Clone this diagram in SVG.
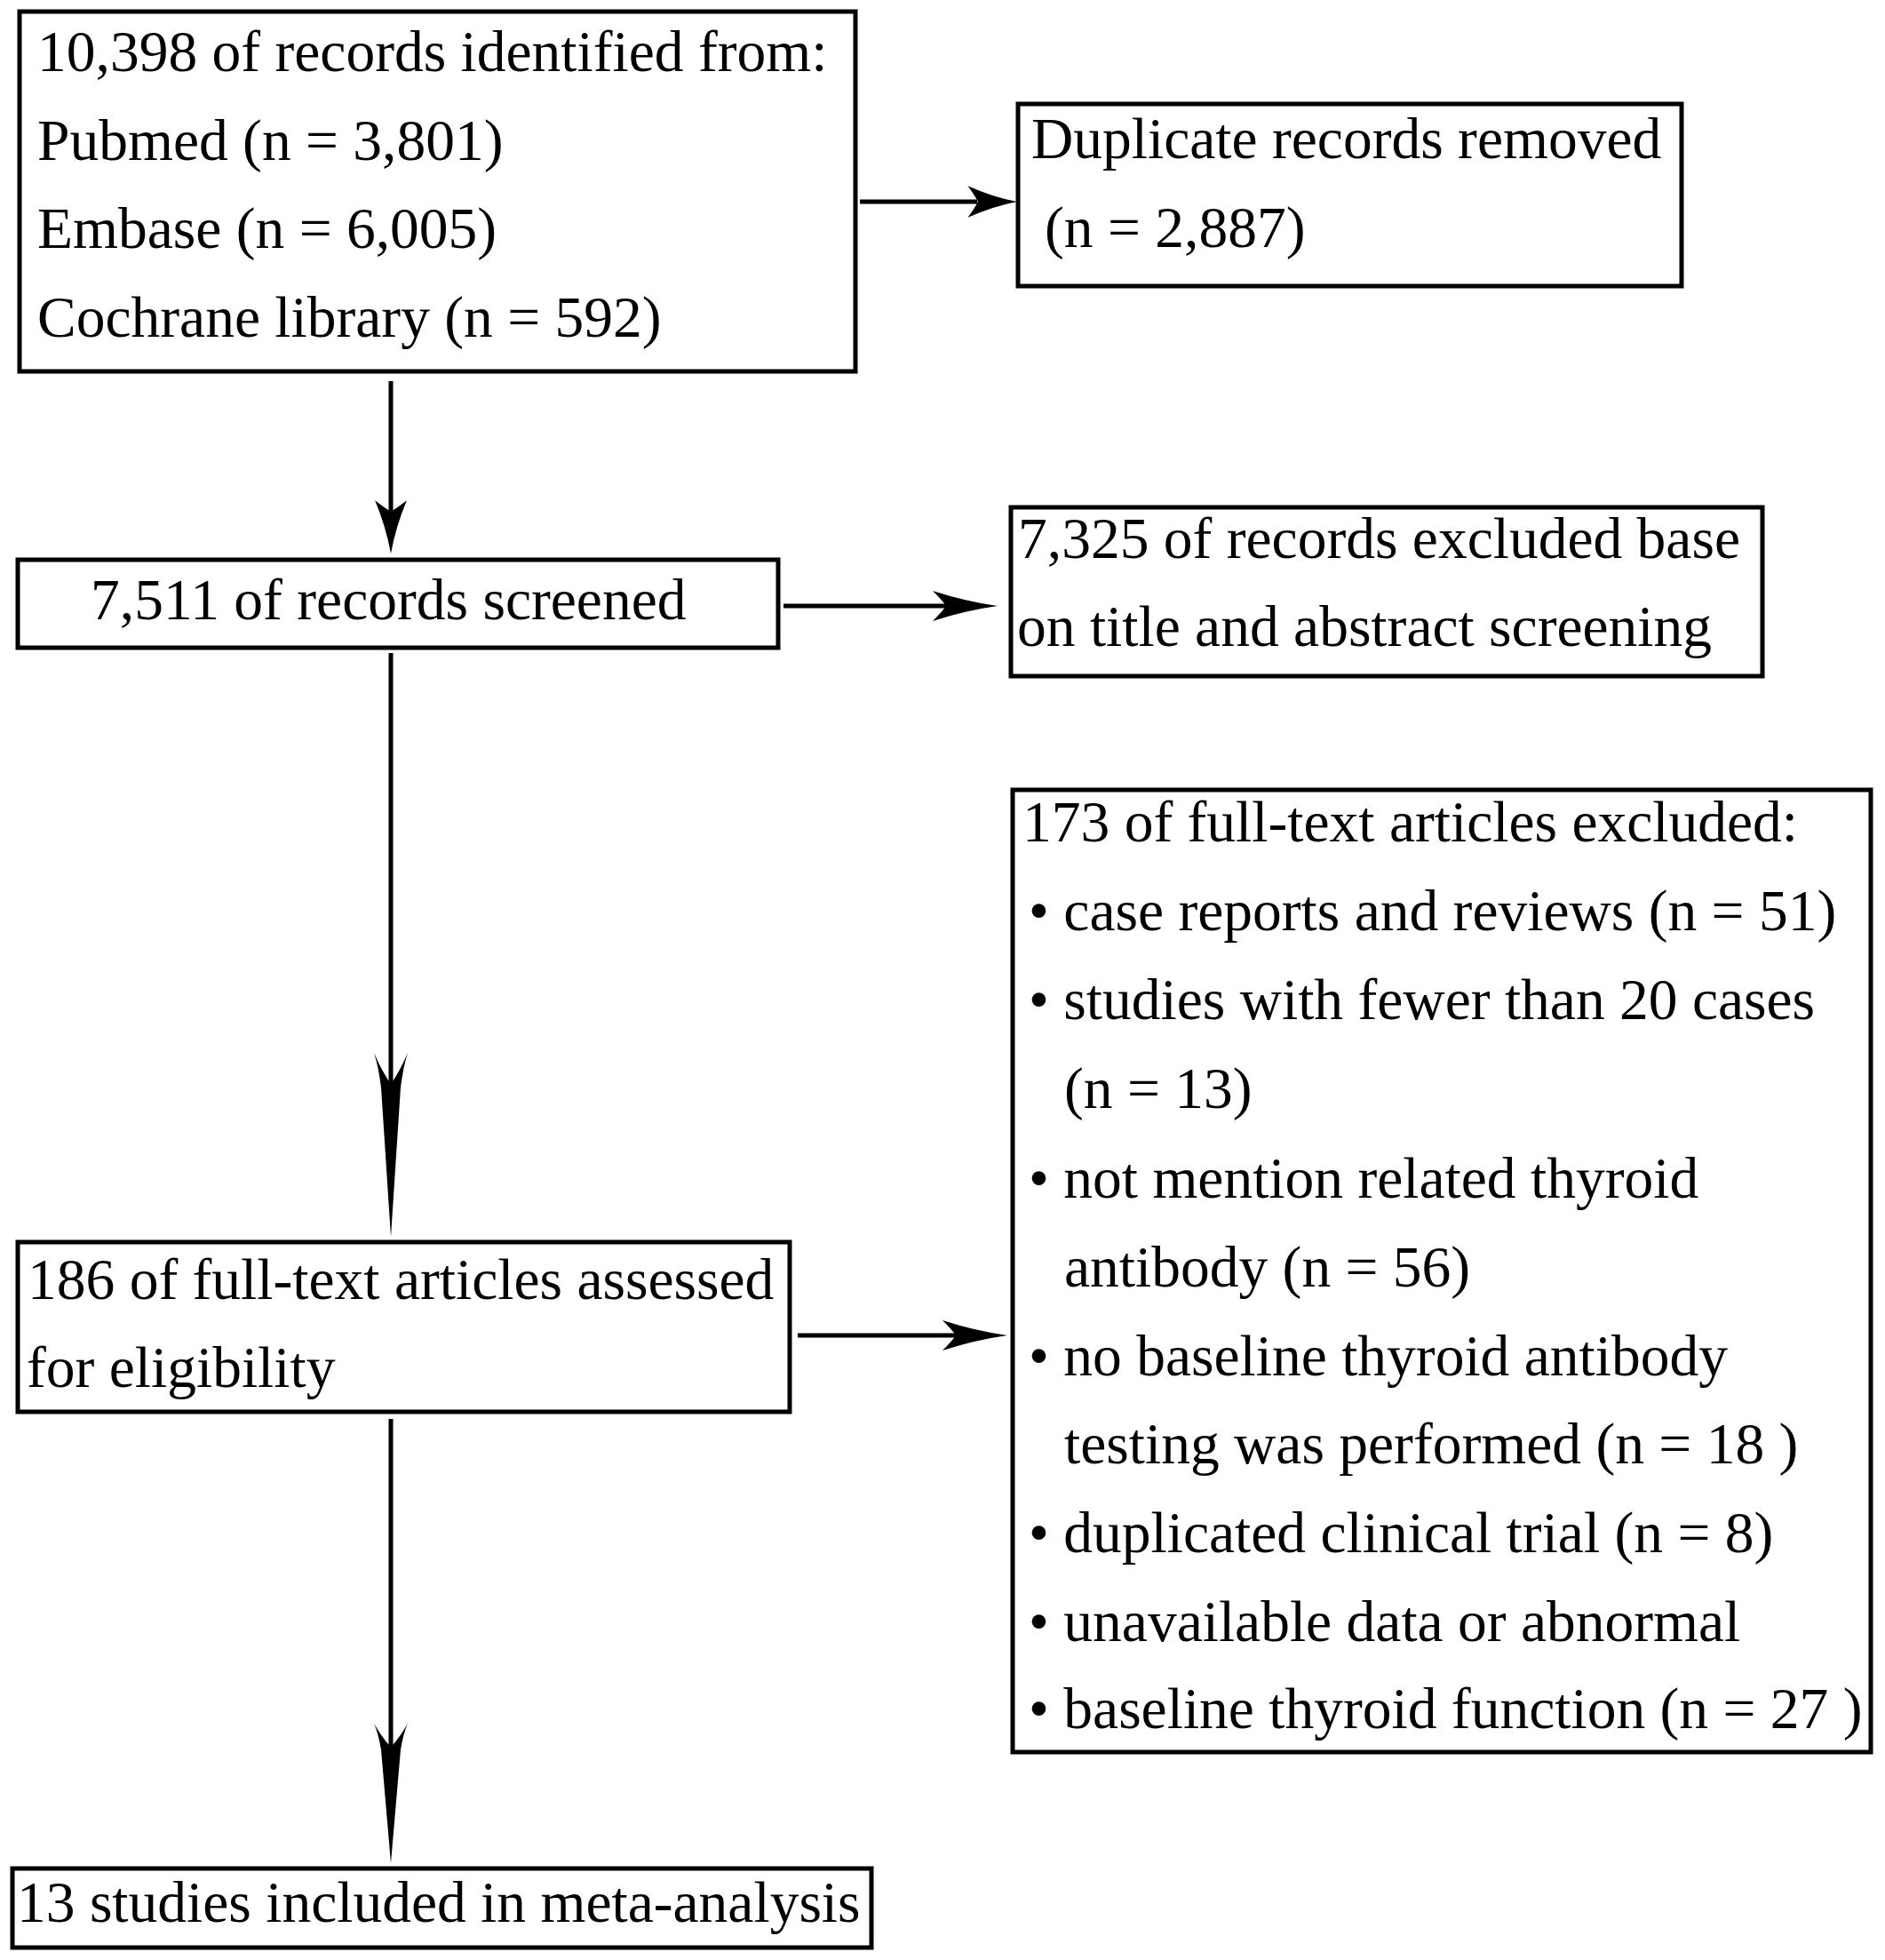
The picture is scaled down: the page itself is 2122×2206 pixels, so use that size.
<svg xmlns="http://www.w3.org/2000/svg" xmlns:xlink="http://www.w3.org/1999/xlink" width="2122" height="2206" viewBox="0 0 2122 2206">
<style>
.box{fill:#fff;stroke:#000;stroke-width:5}
.t{font-family:"Liberation Serif","Times New Roman",serif;font-size:65.5px;fill:#000}
.ln{stroke:#000;stroke-width:5;fill:none}
.hd{fill:#000;stroke:none}
</style>
<defs>
<path id="headS" d="M0,0 Q-36,-5 -73,-17 Q-62,-6 -58,0 Q-62,6 -73,17 Q-36,5 0,0 Z"/>
<path id="headL" d="M0,0 L-168,-11 Q-192,-14 -207,-19 Q-186,-10 -172,0 Q-186,10 -207,19 Q-192,14 -168,11 Z"/>
</defs>
<rect width="2122" height="2206" fill="#fff"/>
<g id="connectors">
<line class="ln" x1="968" y1="227" x2="1100" y2="227"/>
<use class="hd" xlink:href="#headS" href="#headS" transform="translate(1145,227) scale(0.76,1.05)"/>
<line class="ln" x1="440" y1="429" x2="440" y2="580"/>
<use class="hd" xlink:href="#headS" href="#headS" transform="translate(440,623) rotate(90) scale(0.82,1.05)"/>
<line class="ln" x1="882" y1="682" x2="1070" y2="682"/>
<use class="hd" xlink:href="#headS" href="#headS" transform="translate(1123,682)"/>
<line class="ln" x1="440" y1="735" x2="440" y2="1225"/>
<use class="hd" xlink:href="#headL" href="#headL" transform="translate(440,1392) rotate(90)"/>
<line class="ln" x1="898" y1="1503" x2="1080" y2="1503"/>
<use class="hd" xlink:href="#headS" href="#headS" transform="translate(1134,1503)"/>
<line class="ln" x1="440" y1="1597" x2="440" y2="1970"/>
<use class="hd" xlink:href="#headL" href="#headL" transform="translate(440,2097) rotate(90) scale(0.76,1)"/>
</g>
<g id="node-identified">
<rect class="box" x="22" y="13" width="941" height="405"/>
<text class="t" x="42" y="80">10,398 of records identified from:</text>
<text class="t" x="42" y="180">Pubmed (n = 3,801)</text>
<text class="t" x="42" y="279">Embase (n = 6,005)</text>
<text class="t" x="42" y="379">Cochrane library (n = 592)</text>
</g>
<g id="node-duplicates">
<rect class="box" x="1146" y="117" width="747" height="205"/>
<text class="t" x="1161" y="178">Duplicate records removed</text>
<text class="t" x="1176" y="278">(n = 2,887)</text>
</g>
<g id="node-screened">
<rect class="box" x="20" y="630" width="856" height="99"/>
<text class="t" x="102" y="697">7,511 of records screened</text>
</g>
<g id="node-excluded-title">
<rect class="box" x="1138" y="571" width="846" height="190"/>
<text class="t" x="1146" y="628">7,325 of records excluded base</text>
<text class="t" x="1145" y="727">on title and abstract screening</text>
</g>
<g id="node-fulltext">
<rect class="box" x="20" y="1398" width="869" height="191"/>
<text class="t" x="31" y="1462">186 of full-text articles assessed</text>
<text class="t" x="30" y="1561">for eligibility</text>
</g>
<g id="node-excluded-fulltext">
<rect class="box" x="1140" y="889" width="966" height="1083"/>
<text class="t" x="1151" y="947">173 of full-text articles excluded:</text>
<text class="t" x="1158" y="1047">• case reports and reviews (n = 51)</text>
<text class="t" x="1158" y="1147">• studies with fewer than 20 cases</text>
<text class="t" x="1198" y="1247">(n = 13)</text>
<text class="t" x="1158" y="1348">• not mention related thyroid</text>
<text class="t" x="1198" y="1448">antibody (n = 56)</text>
<text class="t" x="1158" y="1548">• no baseline thyroid antibody</text>
<text class="t" x="1198" y="1647">testing was performed (n = 18 )</text>
<text class="t" x="1158" y="1747">• duplicated clinical trial (n = 8)</text>
<text class="t" x="1158" y="1847">• unavailable data or abnormal</text>
<text class="t" x="1158" y="1945">• baseline thyroid function (n = 27 )</text>
</g>
<g id="node-included">
<rect class="box" x="14" y="2103" width="967" height="89"/>
<text class="t" x="19" y="2163">13 studies included in meta-analysis</text>
</g>
</svg>
